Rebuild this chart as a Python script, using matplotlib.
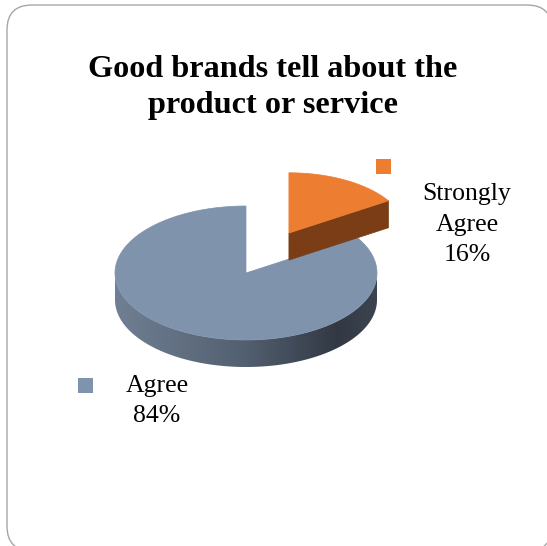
import numpy as np
import matplotlib.pyplot as plt
from matplotlib.patches import Polygon, FancyBboxPatch, Rectangle

title = "Good brands tell about the\nproduct or service"
labels = ["Strongly\nAgree", "Agree"]
values = [16, 84]
top_colors = ["#ed7d31", "#7f93ac"]
cut_colors = ["#7a3d15", "#5a6679"]
explode = [0.68, 0.0]
shrink = [0.9, 1.0]  # the pulled-out slice sits further back, so draw it a bit smaller

# pie geometry in pixel units (y grows downward)
cx, cy = 246, 273
rx, ry = 131, 67
depth = 27

def pt(t, ox=0.0, oy=0.0, dz=0.0, sc=1.0):
    # t is measured clockwise from 12 o'clock
    return (cx + ox + sc * rx * np.sin(t), cy + oy - sc * ry * np.cos(t) + dz)

fig = plt.figure(figsize=(5.47, 5.46), dpi=100)
ax = fig.add_axes([0, 0, 1, 1])
ax.set_xlim(0, 547)
ax.set_ylim(546, 0)
ax.axis("off")

ax.add_patch(FancyBboxPatch((7, 5), 545, 546, boxstyle="round,pad=0,rounding_size=25",
                            fc="white", ec="#a6a6a6", lw=1.0, clip_on=False, zorder=0))

# horizontal shading for the curved wall
stops = [0.0, 0.5, 0.85, 1.0]
stop_cols = np.array([[112, 127, 147], [82, 95, 112], [50, 57, 67], [60, 68, 80]]) / 255
fx = np.linspace(0, 1, 300)
grad = np.stack([np.interp(fx, stops, stop_cols[:, k]) for k in range(3)], axis=-1)[None, :, :]

total = float(sum(values))
starts = np.cumsum([0] + values[:-1]) / total * 2 * np.pi
spans = np.array(values) / total * 2 * np.pi

# draw the big slice first, then the exploded one on top
z = 1
for i in [1, 0]:
    t0, t1 = starts[i], starts[i] + spans[i]
    mid = (t0 + t1) / 2
    sc = shrink[i]
    ox = explode[i] * rx * np.sin(mid)
    oy = -explode[i] * ry * np.cos(mid)

    # curved outer wall on the front half
    a, b = max(t0, np.pi / 2), min(t1, 3 * np.pi / 2)
    if a < b:
        ts = np.linspace(a, b, 200)
        upper = [pt(t, ox, oy, 0, sc) for t in ts]
        lower = [pt(t, ox, oy, depth, sc) for t in ts[::-1]]
        wall = Polygon(upper + lower, closed=True, fc="none", ec="none")
        ax.add_patch(wall)
        img = ax.imshow(grad, extent=(cx + ox - sc * rx, cx + ox + sc * rx,
                                      cy + oy + sc * ry + depth, cy + oy - sc * ry),
                        aspect="auto", interpolation="bilinear", zorder=z)
        img.set_clip_path(wall)

    # radial cut face at the clockwise end of the pulled-out slice
    if explode[i] > 0:
        apex = (cx + ox, cy + oy)
        edge = pt(t1, ox, oy, 0, sc)
        face = [apex, edge, (edge[0], edge[1] + depth), (apex[0], apex[1] + depth)]
        ax.add_patch(Polygon(face, closed=True, fc=cut_colors[i], ec=cut_colors[i],
                             lw=0.5, zorder=z + 1))

    ts = np.linspace(t0, t1, 200)
    top = [(cx + ox, cy + oy)] + [pt(t, ox, oy, 0, sc) for t in ts]
    ax.add_patch(Polygon(top, closed=True, fc=top_colors[i], ec=top_colors[i],
                         lw=0.5, zorder=z + 2))
    z += 3

ax.set_xlim(0, 547)
ax.set_ylim(546, 0)

for k, line in enumerate(title.split("\n")):
    ax.text(273, 77 + k * 36, line, ha="center", va="baseline",
            family="Liberation Serif", fontweight="bold", fontsize=23.2, zorder=10)

# data labels with their legend keys
label_pos = [(467, 200), (157, 392)]
key_pos = [(383, 166), (85, 385)]
for i in range(len(values)):
    lines = labels[i].split("\n") + [f"{values[i]}%"]
    x0, y0 = label_pos[i]
    for k, line in enumerate(lines):
        ax.text(x0, y0 + k * 30.5, line, ha="center", va="baseline",
                family="Liberation Serif", fontsize=18.5, zorder=10)
    kx, ky = key_pos[i]
    ax.add_patch(Rectangle((kx - 7.5, ky - 7.5), 15, 15, fc=top_colors[i], ec="none", zorder=10))

fig.savefig("out.png", dpi=100)
